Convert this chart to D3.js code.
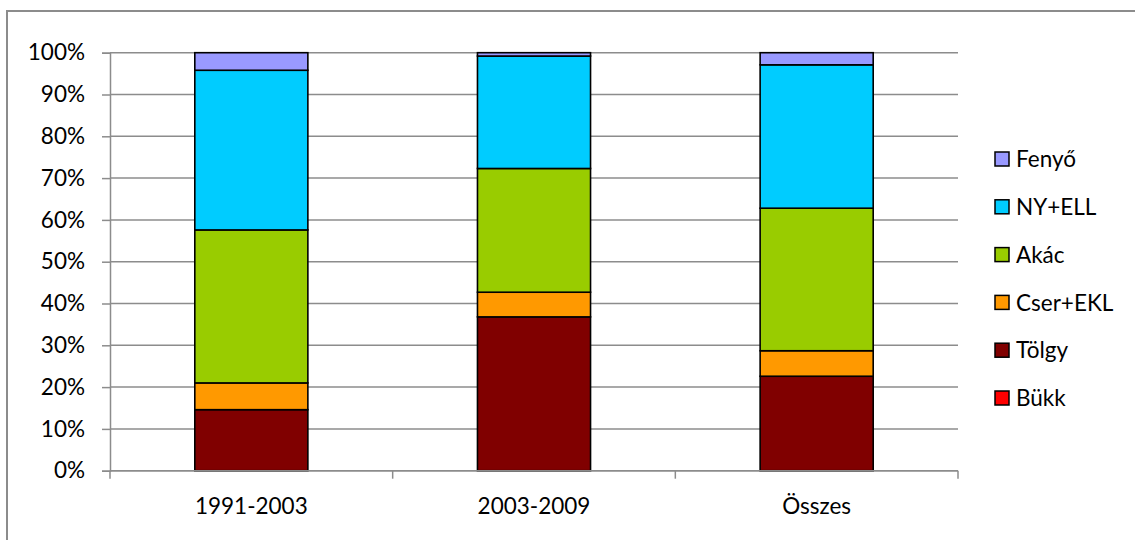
<!DOCTYPE html>
<html>
<head>
<meta charset="utf-8">
<script src="https://cdn.jsdelivr.net/npm/d3@7"></script>
<style>
  html, body { margin: 0; padding: 0; background: #fff; }
  svg { display: block; font-family: Lato, "Open Sans", sans-serif; }
</style>
</head>
<body>
<svg id="chart" width="1135" height="540"></svg>
<script>
const categories = ["1991-2003", "2003-2009", "Összes"];
const seriesNames = ["Bükk", "Tölgy", "Cser+EKL", "Akác", "NY+ELL", "Fenyő"];
const bukk    = [0, 0, 0];
const tolgy   = [14.6, 36.8, 22.6];
const cserEkl = [6.4, 5.9, 6.1];
const akac    = [36.6, 29.6, 34.1];
const nyEll   = [38.2, 26.9, 34.3];
const fenyo   = [4.2, 0.8, 2.9];
const yTicks  = [0, 10, 20, 30, 40, 50, 60, 70, 80, 90, 100];
const colors  = ["#FF0000", "#800000", "#FF9900", "#99CC00", "#00CCFF", "#9999FF"];

const seriesValues = [bukk, tolgy, cserEkl, akac, nyEll, fenyo];
const rows = categories.map((c, i) => {
  const r = { cat: c };
  seriesNames.forEach((s, j) => r[s] = seriesValues[j][i]);
  return r;
});

const svg = d3.select("#chart");
const plotLeft = 110, plotRight = 958, plotTop = 52.7, plotBottom = 470.7;

// outer chart border
svg.append("rect").attr("x", 7).attr("y", 11).attr("width", 1140).attr("height", 540)
  .attr("fill", "none").attr("stroke", "#8c8c8c").attr("stroke-width", 2);

const x = d3.scaleBand().domain(categories).range([plotLeft, plotRight]).paddingInner(0.6).paddingOuter(0.3);
const y = d3.scaleLinear().domain([0, 100]).range([plotBottom, plotTop]);

// gridlines
svg.append("g").selectAll("line").data(yTicks).join("line")
  .attr("x1", plotLeft).attr("x2", plotRight)
  .attr("y1", d => y(d)).attr("y2", d => y(d))
  .attr("stroke", "#8c8c8c").attr("stroke-width", 1.5);

// y axis
const yAxis = svg.append("g").attr("transform", `translate(${plotLeft},0)`)
  .call(d3.axisLeft(y).tickValues(yTicks).tickFormat(d => d + "%").tickSize(8).tickPadding(17));
yAxis.select(".domain").attr("stroke", "#8c8c8c").attr("stroke-width", 1.5);
yAxis.selectAll(".tick line").attr("stroke", "#8c8c8c").attr("stroke-width", 1.5);
yAxis.selectAll("text").attr("font-size", "22.5px").attr("fill", "#000")
  .attr("font-family", "Lato, 'Open Sans', sans-serif");

// stacked bars
const stack = d3.stack().keys(seriesNames)(rows);
svg.append("g").selectAll("g").data(stack).join("g")
  .attr("fill", (d, i) => colors[i])
  .selectAll("rect").data(d => d.filter(p => p[1] - p[0] > 0)).join("rect")
  .attr("x", d => x(d.data.cat))
  .attr("width", x.bandwidth())
  .attr("y", d => y(d[1]))
  .attr("height", d => y(d[0]) - y(d[1]))
  .attr("stroke", "#000").attr("stroke-width", 1.6);

// x axis line and boundary ticks
svg.append("line").attr("x1", plotLeft).attr("x2", plotRight).attr("y1", plotBottom).attr("y2", plotBottom)
  .attr("stroke", "#8c8c8c").attr("stroke-width", 1.5);
const step = x.step();
const boundaries = [plotLeft].concat(categories.map(c => x(c) + x.bandwidth() + step * x.paddingInner() / 2));
boundaries[boundaries.length - 1] = plotRight;
svg.append("g").selectAll("line").data(boundaries).join("line")
  .attr("x1", d => d).attr("x2", d => d).attr("y1", plotBottom).attr("y2", plotBottom + 8)
  .attr("stroke", "#8c8c8c").attr("stroke-width", 1.5);
svg.append("g").selectAll("text").data(categories).join("text")
  .attr("x", d => x(d) + x.bandwidth() / 2).attr("y", 514)
  .attr("text-anchor", "middle").attr("font-size", "22.5px").attr("fill", "#000")
  .text(d => d);

// legend (reverse order: Fenyő on top)
const legendItems = seriesNames.map((s, i) => ({ name: s, color: colors[i] })).reverse();
const lg = svg.append("g").selectAll("g").data(legendItems).join("g")
  .attr("transform", (d, i) => `translate(995, ${159 + i * 47.8})`);
lg.append("rect").attr("x", 0).attr("y", -7).attr("width", 14).attr("height", 14)
  .attr("fill", d => d.color).attr("stroke", "#000").attr("stroke-width", 1.5);
lg.append("text").attr("x", 21).attr("y", 0).attr("dy", "0.36em")
  .attr("font-size", "22.5px").attr("fill", "#000").text(d => d.name);
</script>
</body>
</html>
